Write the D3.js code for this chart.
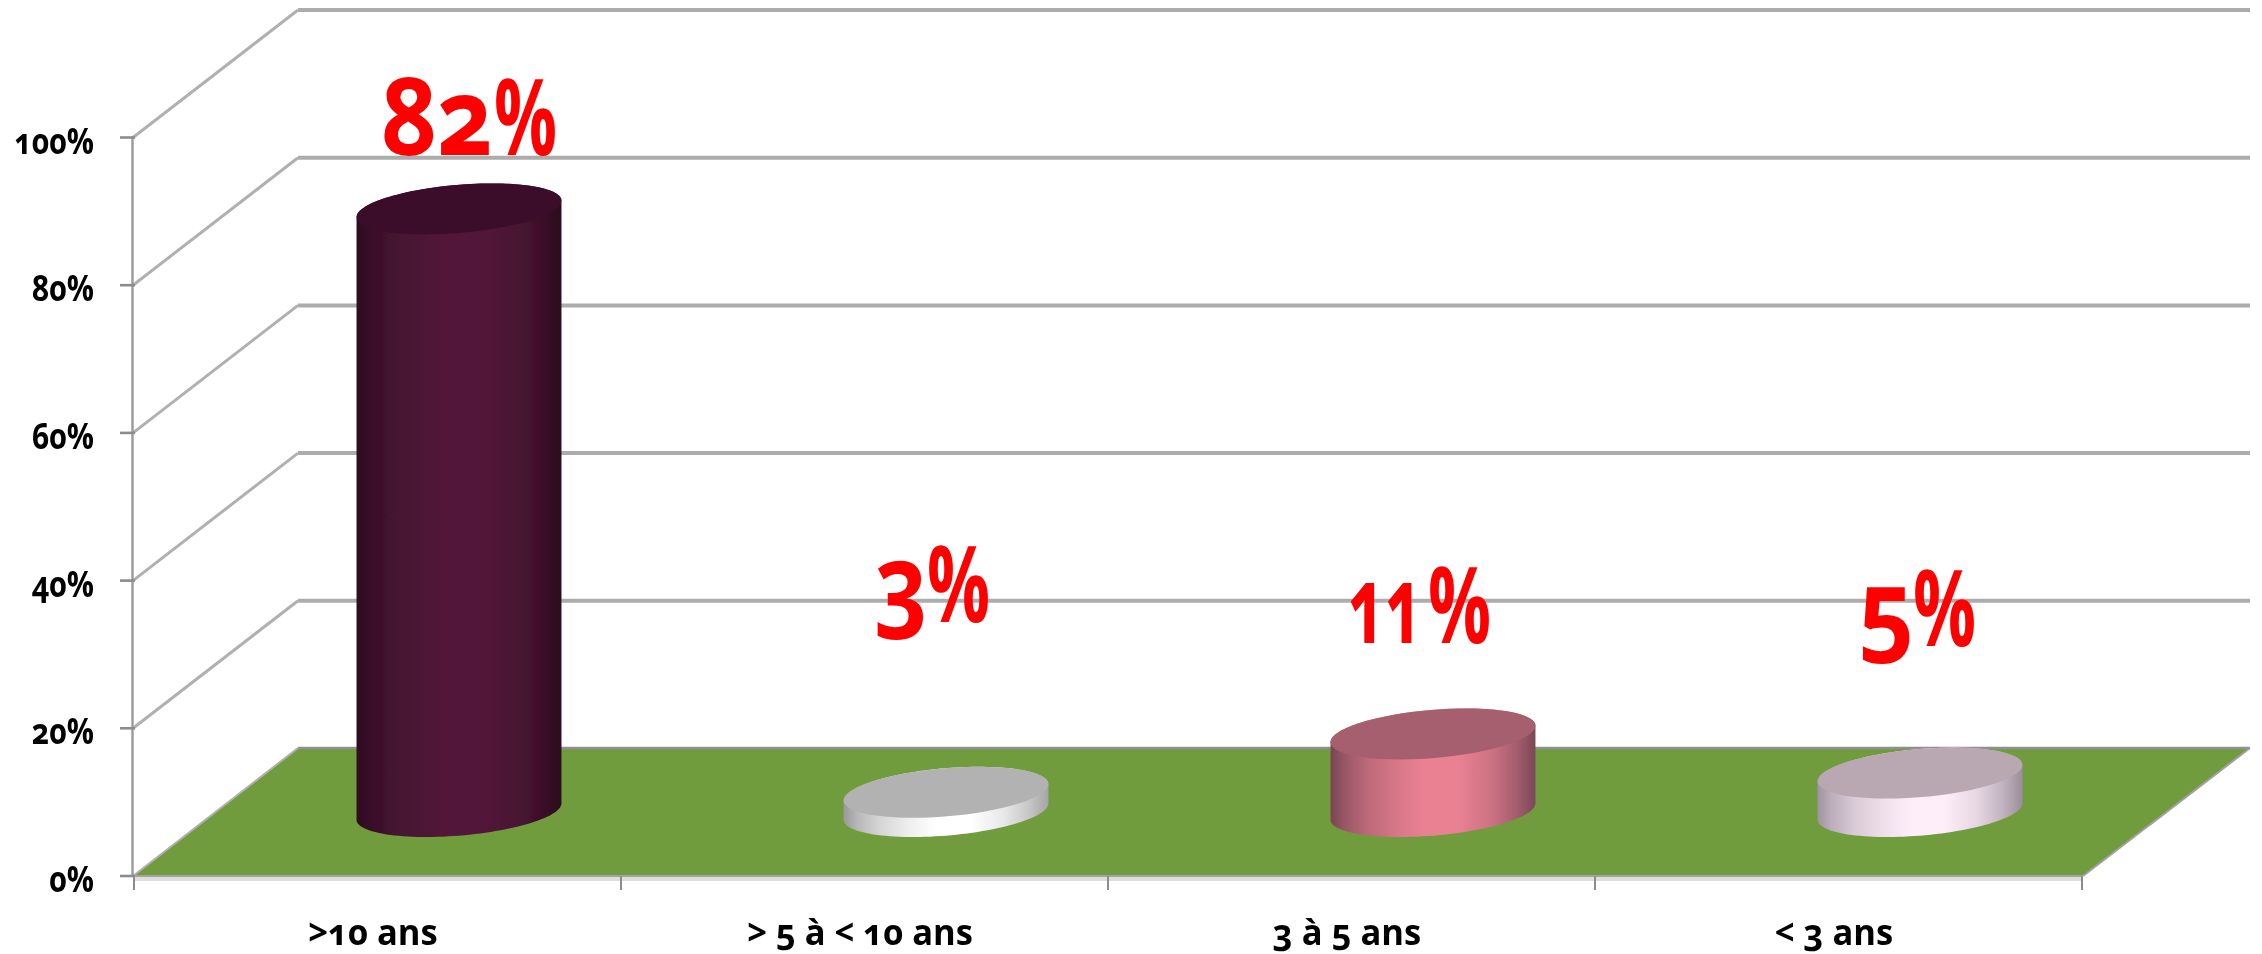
<!DOCTYPE html>
<html><head><meta charset="utf-8">
<style>html,body{margin:0;padding:0;background:#fff}svg{display:block}
text{font-family:"Open Sans";font-weight:700;font-variant-numeric:oldstyle-nums}
.tk{font-size:36px;fill:#000}
.cat{font-size:36px;fill:#000}
.dl{font-size:108px;fill:#ff0000}
.pc{font-size:106px;fill:#ff0000;font-weight:700}
</style>
<script src="https://cdn.jsdelivr.net/npm/d3@7"></script></head><body>
<svg id="c" width="2262" height="954"></svg>
<script>
const categories = [">10 ans", "> 5 à < 10 ans", "3 à 5 ans", "< 3 ans"];
const barValues = [81.6, 2.6, 10.5, 5.2];
const dataLabels = ["82", "3", "11", "5"];
const yTicks = [0, 20, 40, 60, 80, 100];
const topColors = ["#3a1029", "#b2b2b2", "#a55f6e", "#b9a7b2"];
const sideEdgeLeft = ["#2e0c20", "#999999", "#784552", "#a293a2"];
const sideMiddle = ["#53173a", "#ffffff", "#e98193", "#fdeef9"];
const sideEdgeRight = ["#2c0b1e", "#a4a4a4", "#7b4857", "#9c8d9c"];
const labelLayout = [
  {dx:493,px:494,base:155,sx:0.9},
  {dx:928,px:927,base:622,sx:0.85},
  {dx:1423,px:1428,base:643,sx:0.6},
  {dx:1914,px:1913,base:646,sx:0.9}
];
const svg = d3.select("#c");
const defs = svg.append("defs");
defs.append("filter").attr("id","soft").attr("x","-2%").attr("y","-2%").attr("width","104%").attr("height","104%")
  .append("feGaussianBlur").attr("stdDeviation",0.7);
const root = svg.append("g").attr("filter","url(#soft)");
const y = d3.scaleLinear().domain([0,100]).range([876,137.5]);
const x = d3.scaleBand().domain(d3.range(4)).range([134,2082]);
const depth = {dx:165, dy:-128};
const floorRightBack = 2250;
const frontRight = 2083;

yTicks.forEach(t=>{
  if(t>0){
    root.append("line").attr("x1",298).attr("x2",floorRightBack).attr("y1",y(t)+depth.dy+0.5).attr("y2",y(t)+depth.dy+0.5).attr("stroke","#acacac").attr("stroke-width",4);
    root.append("line").attr("x1",133).attr("x2",298).attr("y1",y(t)).attr("y2",y(t)+depth.dy+0.5).attr("stroke","#b0b0b0").attr("stroke-width",3);
  }
});
root.append("line").attr("x1",133).attr("x2",frontRight).attr("y1",y(0)+3).attr("y2",y(0)+3).attr("stroke","#dedede").attr("stroke-width",4);
root.append("path").attr("d",d3.line()([[133,y(0)],[133+depth.dx,y(0)+depth.dy],[floorRightBack,y(0)+depth.dy],[frontRight,y(0)]])+"Z")
  .attr("fill","#709c3d");
root.append("line").attr("x1",298).attr("x2",floorRightBack).attr("y1",y(0)+depth.dy).attr("y2",y(0)+depth.dy).attr("stroke","#909090").attr("stroke-width",2.5);
root.append("line").attr("x1",frontRight).attr("x2",floorRightBack).attr("y1",y(0)).attr("y2",y(0)+depth.dy).attr("stroke","#a0a0a0").attr("stroke-width",2);
root.append("line").attr("x1",133).attr("x2",298).attr("y1",y(0)).attr("y2",y(0)+depth.dy).attr("stroke","#b0b0b0").attr("stroke-width",2);
root.append("line").attr("x1",133).attr("x2",frontRight).attr("y1",y(0)).attr("y2",y(0)).attr("stroke","#a3a3a3").attr("stroke-width",2);

root.append("line").attr("x1",132.5).attr("x2",132.5).attr("y1",y(100)).attr("y2",y(0)).attr("stroke","#9a9a9a").attr("stroke-width",2.4);
yTicks.forEach(t=>{
  root.append("line").attr("x1",120).attr("x2",135).attr("y1",y(t)).attr("y2",y(t)).attr("stroke","#8c8c8c").attr("stroke-width",2.6);
  root.append("g").attr("transform",`translate(94,${y(t)+16}) scale(0.84,1)`)
    .append("text").attr("text-anchor","end").attr("class","tk").text(t+"%");
});
d3.range(5).forEach(i=>{
  const xx = i<4? x(i): x.range()[1];
  root.append("line").attr("x1",xx).attr("x2",xx).attr("y1",y(0)).attr("y2",890).attr("stroke","#8c8c8c").attr("stroke-width",2);
});
categories.forEach((c,i)=>{
  root.append("g").attr("transform",`translate(${x(i)+x.bandwidth()/2-4.5},945) scale(0.96,1)`)
    .append("text").attr("text-anchor","middle").attr("class","cat").text(c);
});

const a = 97, vx = 33, vy = 25.5;
function ell(cx,cy,from,to){
  return d3.range(0,61).map(k=>{const t=from+(to-from)*k/60;return [cx+a*Math.cos(t)+vx*Math.sin(t), cy+vy*Math.sin(t)*-1];});
}
const shadeProfile = [[0,0],[.07,.3],[.18,.6],[.33,.85],[.46,1],[.62,1],[.78,.75],[.9,.4],[1,0]];
barValues.forEach((v,i)=>{
  const cx = x(i)+x.bandwidth()/2+depth.dx/2-1;
  const cyB = y(0)+depth.dy/2-0.5;
  const cyT = cyB-(y(0)-y(v));
  const gid="g"+i;
  const g = defs.append("linearGradient").attr("id",gid);
  shadeProfile.forEach(([o,f])=>{
    const edge = o<.5? sideEdgeLeft[i]: sideEdgeRight[i];
    g.append("stop").attr("offset",o).attr("stop-color",d3.interpolateRgb(edge,sideMiddle[i])(f));
  });
  const t0 = Math.atan2(vx,a);
  const lower = ell(cx,cyB,t0+Math.PI,t0+2*Math.PI);
  const upper = ell(cx,cyT,t0,t0+Math.PI);
  root.append("path").attr("d",d3.line()(lower.concat(upper))+"Z").attr("fill",`url(#${gid})`);
  root.append("path").attr("d",d3.line()(ell(cx,cyT,0,2*Math.PI))+"Z").attr("fill",topColors[i]);
});
dataLabels.forEach((d,i)=>{
  const L = labelLayout[i];
  root.append("g").attr("transform",`translate(${L.dx},${L.base}) scale(${L.sx},1)`)
    .append("text").attr("text-anchor","end").attr("class","dl").text(d);
  root.append("g").attr("transform",`translate(${L.px},${L.base}) scale(0.66,1)`)
    .append("text").attr("text-anchor","start").attr("class","pc").text("%");
});
</script>
</body></html>
